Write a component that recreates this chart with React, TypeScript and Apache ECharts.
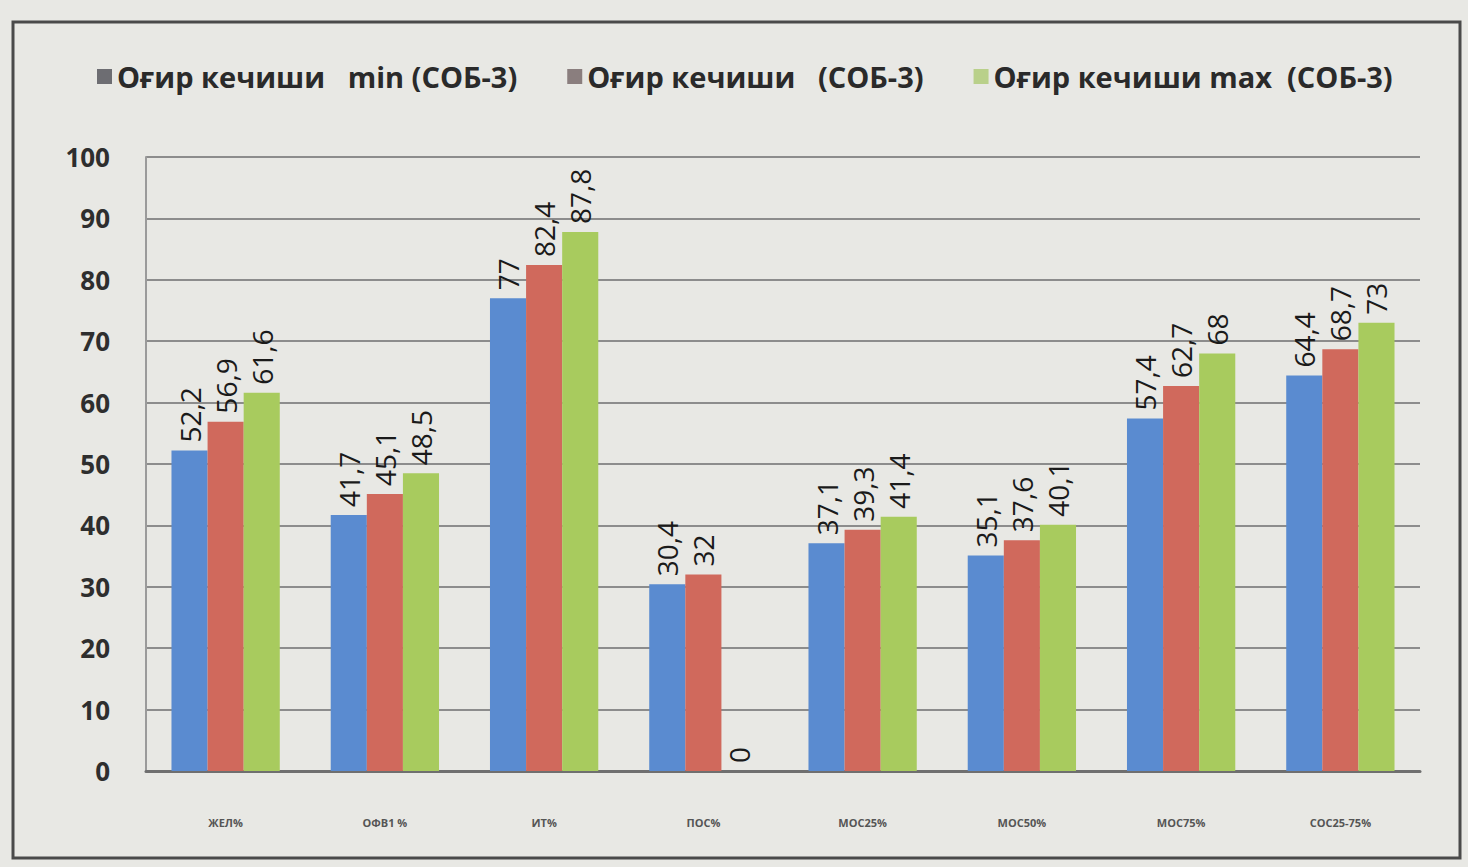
import React, { useEffect, useRef } from "react";
import * as echarts from "echarts";

// Spirometry indicators for the severe course group
const categories = ["ЖЕЛ%", "ОФВ1 %", "ИТ%", "ПОС%", "МОС25%", "МОС50%", "МОС75%", "СОС25-75%"];
const seriesNames = ["Оғир кечиши   min (СОБ-3)", "Оғир кечиши   (СОБ-3)", "Оғир кечиши max  (СОБ-3)"];
const minValues = [52.2, 41.7, 77, 30.4, 37.1, 35.1, 57.4, 64.4];
const meanValues = [56.9, 45.1, 82.4, 32, 39.3, 37.6, 62.7, 68.7];
const maxValues = [61.6, 48.5, 87.8, 0, 41.4, 40.1, 68, 73];
const yTicks = { min: 0, max: 100, interval: 10 };

const barColors = ["#5a8bd0", "#d0695c", "#a8cb5e"];
const legendIconColors = ["#6d6d72", "#8a7e7e", "#b9d08a"];

export default function App() {
  const ref = useRef<HTMLDivElement>(null);

  useEffect(() => {
    if (!ref.current) return;
    const chart = echarts.init(ref.current, undefined, { renderer: "svg" });
    const valueLabel = {
      show: true,
      position: "top" as const,
      rotate: 90,
      align: "left" as const,
      verticalAlign: "middle" as const,
      distance: 8,
      color: "#1a1a1a",
      fontSize: 28,
      fontFamily: "Open Sans, sans-serif",
      formatter: (p: any) => String(p.value).replace(".", ","),
    };
    const dataSets = [minValues, meanValues, maxValues];
    chart.setOption({
      animation: false,
      backgroundColor: "#e8e8e4",
      textStyle: { fontFamily: "Open Sans, sans-serif" },
      graphic: [
        {
          type: "rect",
          shape: { x: 13, y: 22, width: 1447, height: 836 },
          style: { fill: "none", stroke: "#4a4a4a", lineWidth: 3 },
          silent: true,
        },
      ],
      legend: {
        top: 57,
        left: 92,
        itemWidth: 15,
        itemHeight: 15,
        itemGap: 50,
        icon: "rect",
        textStyle: { fontSize: 29, fontWeight: "bold", color: "#2a2a2a", fontFamily: "Open Sans, sans-serif" },
        data: seriesNames.map((name, i) => ({ name, itemStyle: { color: legendIconColors[i] } })),
      },
      grid: { left: 146, right: 48, top: 157, bottom: 96 },
      xAxis: {
        type: "category",
        data: categories,
        axisLine: { lineStyle: { color: "#6f6f6f", width: 3 } },
        axisTick: { show: false },
        axisLabel: { margin: 46, fontSize: 11, fontWeight: "bold", color: "#555" },
      },
      yAxis: {
        type: "value",
        min: yTicks.min,
        max: yTicks.max,
        interval: yTicks.interval,
        axisLine: { show: true, lineStyle: { color: "#9a9a9a", width: 2 } },
        axisTick: { show: false },
        axisLabel: { margin: 36, fontSize: 26, fontWeight: "bold", color: "#2e2e2e" },
        splitLine: { lineStyle: { color: "#8c8c8c", width: 2 } },
      },
      series: dataSets.map((data, i) => ({
        name: seriesNames[i],
        type: "bar",
        data,
        barGap: "0%",
        barCategoryGap: "32%",
        itemStyle: { color: barColors[i] },
        label: valueLabel,
      })),
    });
    return () => chart.dispose();
  }, []);

  return (
    <div
      ref={ref}
      style={{ position: "fixed", left: 0, top: 0, width: 1468, height: 867 }}
    />
  );
}
